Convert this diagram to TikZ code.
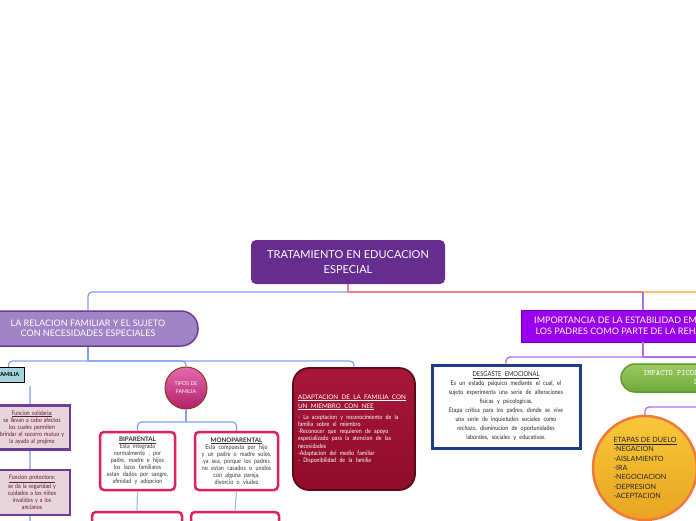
\documentclass[tikz,border=0pt]{standalone}
\usepackage{fontspec}
\setmainfont{Lato}
\newfontfamily\fuentecuerpo{Lato}[FakeStretch=0.85, WordSpace=0.8]
\usetikzlibrary{positioning}

\definecolor{moradotitulo}{HTML}{662D91}
\definecolor{lilarelleno}{HTML}{A084C6}
\definecolor{lilaborde}{HTML}{6B3C9C}
\definecolor{lineaazul}{HTML}{7BA3F5}
\definecolor{lineasalmon}{HTML}{E3877C}
\definecolor{lineaamarilla}{HTML}{F7C46C}
\definecolor{lineavioleta}{HTML}{B46BE8}
\definecolor{violeta}{HTML}{9A00F0}
\definecolor{violetaborde}{HTML}{7000B4}
\definecolor{turquesa}{HTML}{A3D3DD}
\definecolor{rosapalido}{HTML}{EAD4DC}
\definecolor{granatetexto}{HTML}{5B1E35}
\definecolor{frambuesa}{HTML}{E0205A}
\definecolor{magentaclaro}{HTML}{E46AAE}
\definecolor{magentaoscuro}{HTML}{B3206C}
\definecolor{marronborde}{HTML}{8B3A1C}
\definecolor{rojoclaro}{HTML}{A8163A}
\definecolor{rojooscuro}{HTML}{8E0D28}
\definecolor{rojoborde}{HTML}{5E0A18}
\definecolor{azulmarino}{HTML}{1E3C8C}
\definecolor{verdeclaro}{HTML}{9CCB63}
\definecolor{verdeoscuro}{HTML}{6FA73A}
\definecolor{verdeborde}{HTML}{5C9A2C}
\definecolor{amarilloclaro}{HTML}{F8C73A}
\definecolor{amarillooscuro}{HTML}{E9A421}
\definecolor{naranjaborde}{HTML}{F0783A}

\tikzset{
  enlace/.style={line width=1.2pt, rounded corners=4pt},
  cajatipo/.style={draw=frambuesa, line width=2.5pt, fill=white, rounded corners=4pt,
    text=black!80, align=center, inner xsep=2pt},
  cajafuncion/.style={draw=lilaborde, line width=2.5pt, fill=rosapalido, text=granatetexto,
    align=center, text width=72pt, inner xsep=2pt, minimum height=44pt,
    font=\fuentecuerpo\fontsize{6.2}{7}\selectfont},
}

\begin{document}
\begin{tikzpicture}[x=1pt,y=-1pt]
\useasboundingbox (0,0) rectangle (696,520);

% Central topic
\node[fill=moradotitulo, rounded corners=5pt, minimum width=194pt, minimum height=44pt,
  text=white, align=center, font=\fontsize{11}{14.5}\selectfont]
  (tratamiento) at (348,262) {TRATAMIENTO EN EDUCACION\\ESPECIAL};

% Main branches
\node[draw=lilaborde, line width=1.5pt, fill=lilarelleno, rounded corners=17pt,
  minimum width=220pt, minimum height=35pt, text=white, align=center,
  font=\fontsize{9}{10.5}\selectfont]
  (relacion) at (88,328.5) {LA RELACION FAMILIAR Y EL SUJETO\\CON NECESIDADES ESPECIALES};

\node[draw=violetaborde, line width=0.8pt, fill=violeta, minimum width=244pt,
  minimum height=32pt, text=white, align=center, font=\fontsize{9}{11.5}\selectfont]
  (importancia) at (643,326) {IMPORTANCIA DE LA ESTABILIDAD EMOCIONAL DE\\LOS PADRES COMO PARTE DE LA REHABILITACION};

\coordinate (ramalizq) at (348,292);
\coordinate (ramalder) at (643,292);
\coordinate (bordeder) at (700,292);

\draw[enlace, lineaazul] (ramalizq) -| (relacion.north);
\draw[line width=1.2pt, lineasalmon] (tratamiento.south) |- (ramalder);
\draw[line width=1.2pt, lineaamarilla] (ramalder) -- (bordeder);
\draw[line width=1.2pt, lineavioleta] (ramalder) -- (importancia.north);

% Left side: family
\node[draw=black, line width=1.5pt, fill=turquesa, inner xsep=5pt, minimum height=15pt,
  font=\fontsize{5.5}{6}\selectfont\bfseries, anchor=east]
  (familia) at (25,375) {FAMILIA};

\node[cajafuncion] (solidaria) at (32,427.5) {\centering\underline{Funcion solidaria:}\\se llevan a cabo afectos\\los cuales permiten\\brindar el socorro mutuo y\\la ayuda al projimo\par};

\node[cajafuncion, minimum height=45pt] (protectora) at (32,492.5) {\centering\underline{Funcion protectora:}\\se da la seguridad y\\cuidados a los niños\\invalidos y a los\\ancianos\par};

\node[circle, draw=marronborde, line width=1pt, top color=magentaclaro, bottom color=magentaoscuro,
  minimum size=42pt, inner sep=0pt, text=white, align=center, font=\fontsize{5.2}{8}\selectfont]
  (tipos) at (186,388) {TIPOS DE\\FAMILIA};

\node[cajatipo, text width=71pt, minimum height=58pt] (biparental) at (137.5,461)
  {{\centering\fontsize{6.2}{7}\selectfont\textbf{\underline{BIPARENTAL}}\par}
   {\centering\fuentecuerpo\fontsize{6.3}{7}\selectfont Esta integrada\\normalmente , por\\padre, madre e hijos\\los lazos familiares\\estan dados por sangre,\\afinidad y adopcion\par}};

\node[cajatipo, text width=79pt, minimum height=58pt] (monoparental) at (236.5,461)
  {{\centering\fontsize{6.2}{7}\selectfont\textbf{\underline{MONOPARENTAL}}\par}
   {\centering\fuentecuerpo\fontsize{6.3}{7}\selectfont Esta compuesta por hijo\\y un padre o madre solos,\\ya sea, porque los padres\\no estan casados o unidos\\con alguna pareja,\\divorcio o viudez\par}};

\node[cajatipo, minimum width=90pt, minimum height=50pt] (inferiorbi) at (137,537) {};
\node[cajatipo, minimum width=88pt, minimum height=50pt] (inferiormono) at (235,537) {};

\node[draw=rojoborde, line width=1.8pt, top color=rojoclaro, bottom color=rojooscuro,
  rounded corners=16pt, text width=112pt, inner xsep=5pt, minimum height=122pt,
  text=white, align=left]
  (adaptacion) at (354,429)
  {{\raggedright\fontsize{6.3}{9}\selectfont\underline{ADAPTACION DE LA FAMILIA CON}\\\underline{UN MIEMBRO CON NEE}\par}
   \vspace{4pt}
   {\raggedright\fuentecuerpo\fontsize{6.2}{7.2}\selectfont - La aceptacion y reconocimiento de la\\familia sobre el miembro\\-Reconocer que requieren de apoyo\\especializado para la atencion de las\\necesidades\\-Adaptacion del medio familiar\\- Disponibilidad de la familia\par}};

\coordinate (nodoizq) at (88,361);
\coordinate (nodotipos) at (186,422);
\coordinate (nodofamilia) at (30,386);
\coordinate (bordeinf) at (30,530);

\draw[enlace, lineaazul] (relacion.south) -- (nodoizq);
\draw[enlace, lineaazul] (nodoizq) -| (familia.north);
\draw[enlace, lineaazul] (nodoizq) -| (tipos.north);
\draw[enlace, lineaazul] (nodoizq) -| (adaptacion.north);
\draw[enlace, lineaazul] (tipos.south) -- (nodotipos);
\draw[enlace, lineaazul] (nodotipos) -| (biparental.north);
\draw[enlace, lineaazul] (nodotipos) -| (monoparental.north);
\draw[enlace, lineaazul!70] (biparental.south) -- (inferiorbi.north);
\draw[enlace, lineaazul!70] (monoparental.south) -- (inferiormono.north);
\draw[enlace, lineaazul!70] (nodofamilia) -- (nodofamilia |- solidaria.north);
\draw[enlace, lineaazul!70] (nodofamilia |- solidaria.south) -- (nodofamilia |- protectora.north);
\draw[enlace, lineaazul!70] (nodofamilia |- protectora.south) -- (bordeinf);

% Right side: parents
\node[draw=azulmarino, line width=3pt, fill=white, text width=140pt, inner xsep=4pt,
  minimum height=83pt, align=center, text=black!85]
  (desgaste) at (506,406.5)
  {{\centering\fuentecuerpo\fontsize{6.8}{9}\selectfont\underline{DESGASTE EMOCIONAL}\par}
   {\centering\fuentecuerpo\fontsize{6.3}{9}\selectfont Es un estado psiquico mediante el cual, el\\sujeto experimenta una serie de alteraciones\\fisicas y psicologicas.\\Etapa critica para los padres, donde se vive\\una serie de inquietudes sociales como\\rechazo, disminucion de oportunidades\\laborales, sociales y educativas.\par}};

\node[draw=verdeborde, line width=1.5pt, top color=verdeclaro, bottom color=verdeoscuro,
  rounded corners=14pt, minimum width=180pt, minimum height=28pt, text=white,
  align=center, font=\fontsize{8}{9}\selectfont\ttfamily]
  (impacto) at (711,378) {IMPACTO PICOLOGICO EN LOS PADRES\\DEL NIÑO};

\node[circle, draw=naranjaborde, line width=2.5pt, top color=amarilloclaro, bottom color=amarillooscuro,
  minimum size=104pt, inner sep=0pt, align=left, text=black!85, font=\fontsize{7.2}{9.3}\selectfont]
  (etapas) at (645,468) {\underline{ETAPAS DE DUELO}\\-NEGACION\\-AISLAMIENTO\\-IRA\\-NEGOCIACION\\-DEPRESION\\-ACEPTACION};

\coordinate (nodoimp) at (643,357);
\coordinate (bordeimp) at (700,357);
\coordinate (nododuelo) at (711,407);

\draw[enlace, lineavioleta] (importancia.south) -- (nodoimp);
\draw[enlace, lineavioleta] (nodoimp) -| (desgaste.north);
\draw[enlace, lineavioleta] (nodoimp) -- (bordeimp);
\draw[enlace, lineavioleta] (impacto.south) -- (nododuelo) -| (etapas.north);

\end{tikzpicture}
\end{document}
